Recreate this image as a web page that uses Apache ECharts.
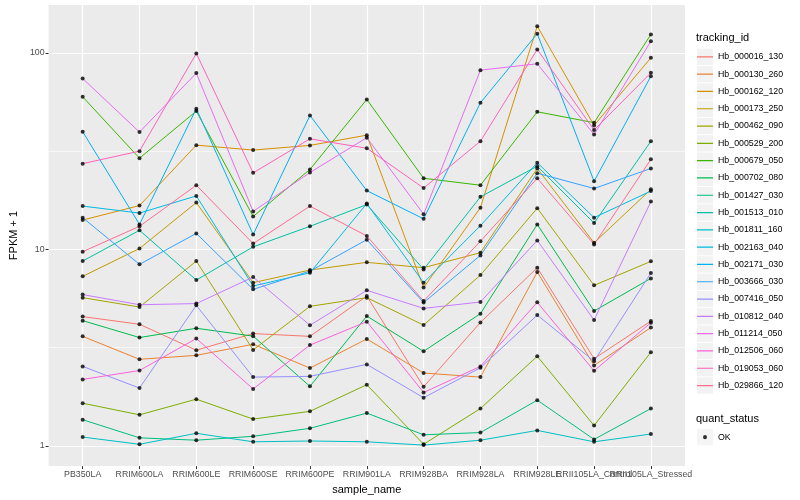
<!DOCTYPE html>
<html><head><meta charset="utf-8">
<script src="https://cdn.jsdelivr.net/npm/echarts@6/dist/echarts.min.js"></script>
<style>html,body{margin:0;padding:0;background:#fff}#c{width:800px;height:500px}</style>
</head><body><div id="c"></div>
<script>
const categories = ['PB350LA','RRIM600LA','RRIM600LE','RRIM600SE','RRIM600PE','RRIM901LA','RRIM928BA','RRIM928LA','RRIM928LE','RRII105LA_Control','RRII105LA_Stressed'];
const trackingIds = ['Hb_000016_130','Hb_000130_260','Hb_000162_120','Hb_000173_250','Hb_000462_090','Hb_000529_200','Hb_000679_050','Hb_000702_080','Hb_001427_030','Hb_001513_010','Hb_001811_160','Hb_002163_040','Hb_002171_030','Hb_003666_030','Hb_007416_050','Hb_010812_040','Hb_011214_050','Hb_012506_060','Hb_019053_060','Hb_029866_120'];

const Hb_000016_130 = [4.55, 4.16, 3.07, 3.73, 3.61, 5.79, 2.00, 4.25, 8.07, 2.78, 4.32];
const Hb_000130_260 = [3.61, 2.76, 2.89, 3.29, 2.49, 3.50, 2.35, 2.24, 7.67, 2.57, 4.00];
const Hb_000162_120 = [14.1, 16.7, 33.9, 32.0, 33.8, 38.1, 6.39, 16.3, 136.5, 42.7, 94.3];
const Hb_000173_250 = [7.29, 10.1, 17.3, 6.77, 7.85, 8.59, 8.07, 9.62, 25.8, 10.8, 20.2];
const Hb_000462_090 = [5.68, 5.09, 8.72, 3.08, 5.13, 5.68, 4.12, 7.40, 16.2, 6.56, 8.69];
const Hb_000529_200 = [1.65, 1.44, 1.73, 1.37, 1.50, 2.05, 1.02, 1.55, 2.86, 1.27, 3.00];
const Hb_000679_050 = [59.7, 29.1, 50.5, 14.7, 25.5, 57.9, 23.0, 21.2, 50.1, 44.1, 124];
const Hb_000702_080 = [4.34, 3.56, 3.97, 3.62, 2.01, 4.58, 3.03, 4.71, 13.4, 4.86, 7.12];
const Hb_001427_030 = [1.36, 1.10, 1.07, 1.12, 1.23, 1.47, 1.14, 1.17, 1.71, 1.08, 1.55];
const Hb_001513_010 = [8.72, 12.5, 6.98, 10.3, 13.1, 16.9, 7.91, 18.5, 26.5, 13.6, 35.5];
const Hb_001811_160 = [1.11, 1.02, 1.16, 1.05, 1.06, 1.05, 1.01, 1.07, 1.20, 1.05, 1.15];
const Hb_002163_040 = [16.6, 15.3, 18.7, 6.51, 7.60, 17.1, 6.77, 13.2, 27.6, 14.5, 19.8];
const Hb_002171_030 = [39.7, 13.4, 51.9, 11.9, 48.0, 19.9, 14.3, 55.7, 125, 22.2, 76.0];
const Hb_003666_030 = [14.5, 8.39, 12.06, 6.26, 7.75, 11.2, 5.36, 9.32, 24.4, 20.4, 25.8];
const Hb_007416_050 = [2.54, 1.97, 5.19, 2.24, 2.26, 2.60, 1.76, 2.50, 4.63, 2.70, 7.58];
const Hb_010812_040 = [5.89, 5.23, 5.30, 7.23, 4.11, 6.19, 5.01, 5.40, 11.1, 4.37, 17.5];
const Hb_011214_050 = [74.0, 39.5, 78.8, 15.6, 24.6, 37.0, 15.1, 81.6, 87.9, 38.4, 114.6];
const Hb_012506_060 = [2.18, 2.42, 3.52, 1.95, 3.26, 4.29, 1.87, 2.54, 5.38, 2.41, 4.24];
const Hb_019053_060 = [27.3, 31.6, 99.2, 24.5, 36.5, 32.7, 20.5, 35.5, 104, 40.5, 79.1];
const Hb_029866_120 = [9.73, 13.1, 21.2, 10.7, 16.6, 11.7, 5.46, 11.0, 23.0, 10.6, 28.7];

const seriesValues = [Hb_000016_130, Hb_000130_260, Hb_000162_120, Hb_000173_250, Hb_000462_090, Hb_000529_200, Hb_000679_050, Hb_000702_080, Hb_001427_030, Hb_001513_010, Hb_001811_160, Hb_002163_040, Hb_002171_030, Hb_003666_030, Hb_007416_050, Hb_010812_040, Hb_011214_050, Hb_012506_060, Hb_019053_060, Hb_029866_120];
const quantStatus = ['OK'];
const yTickValues = [1, 10, 100];
const yMinorValues = [3.1623, 31.623];

const palette = ['#F8766D','#EA8331','#D89000','#C09B00','#A3A500','#7CAE00','#39B600','#00BB4E','#00BF7D','#00C1A3','#00BFC4','#00BAE0','#00B0F6','#35A2FF','#9590FF','#C77CFF','#E76BF3','#FA62DB','#FF62BC','#FF6C91'];

const FONT = 'Liberation Sans, Arial, Helvetica, sans-serif';
const catIdx = categories.map((c, i) => i);
// split the ticks over two overlaid axes so that ECharts does not drop overlapping labels
const xTicksA = catIdx.filter(i => i !== categories.length - 2);
const xTicksB = [categories.length - 2];

const lineSeries = trackingIds.map((name, k) => ({
  name: name,
  type: 'line',
  data: seriesValues[k].map((v, i) => [i, v]),
  showSymbol: false,
  symbol: 'none',
  itemStyle: { color: palette[k] },
  lineStyle: { color: palette[k], width: 1 },
  z: 2,
  silent: true
}));

const points = [];
seriesValues.forEach(vals => vals.forEach((v, i) => points.push([i, v])));

const barIcon = 'path://M0,0h0.05v0.05h-0.05zM0,7.4h16v1.2h-16zM15.95,15.95h0.05v0.05h-0.05z';
const dotIcon = 'path://M0,0h0.05v0.05h-0.05zM15.95,15.95h0.05v0.05h-0.05zM10,8a2,2 0 1,1 -4,0a2,2 0 1,1 4,0z';

const legTop = 48.7, legLeft = 697, itemH = 16.3, itemGap = 1;
const quantTop = 429;

function xAxisDef(ticks, withName) {
  const ax = {
    type: 'value', min: -0.6, max: 10.6, position: 'bottom', gridIndex: 0,
    axisLine: { show: false, onZero: false },
    axisTick: { show: true, customValues: ticks, length: 3, lineStyle: { color: '#333333', width: 1 } },
    axisLabel: { customValues: ticks, formatter: v => categories[Math.round(v)], fontSize: 8.8, color: '#4D4D4D', margin: 4, fontFamily: FONT,
      hideOverlap: false, showMinLabel: true, showMaxLabel: true },
    splitLine: { show: true, lineStyle: { color: '#FFFFFF', width: 1.2 } }
  };
  if (withName) {
    ax.name = 'sample_name';
    ax.nameLocation = 'middle';
    ax.nameGap = 17;
    ax.nameTextStyle = { fontSize: 11, color: '#000', fontFamily: FONT };
  }
  return ax;
}

const chart = echarts.init(document.getElementById('c'));
chart.setOption({
  animation: false,
  backgroundColor: '#FFFFFF',
  textStyle: { fontFamily: FONT },
  title: [
    { text: 'tracking_id', left: legLeft - 1, top: 32, padding: 0, textStyle: { fontSize: 11, fontWeight: 'normal', color: '#000', fontFamily: FONT } },
    { text: 'quant_status', left: legLeft - 1, top: quantTop - 16, padding: 0, textStyle: { fontSize: 11, fontWeight: 'normal', color: '#000', fontFamily: FONT } }
  ],
  grid: { left: 40, right: 115, top: 5, bottom: 33, show: true, backgroundColor: '#EBEBEB', borderWidth: 0, containLabel: false },
  xAxis: [xAxisDef(xTicksA, true), xAxisDef(xTicksB, false)],
  yAxis: [
    {
      type: 'log', logBase: 10, min: 0.79, max: 175, position: 'left',
      axisLine: { show: false, onZero: false },
      axisTick: { show: true, customValues: yTickValues, length: 3, lineStyle: { color: '#333333', width: 1 } },
      axisLabel: { customValues: yTickValues, formatter: v => String(v), fontSize: 8.8, color: '#4D4D4D', margin: 4, fontFamily: FONT },
      splitLine: { show: true, lineStyle: { color: '#FFFFFF', width: 1.2 } },
      name: 'FPKM + 1', nameLocation: 'middle', nameGap: 24, nameRotate: 90,
      nameTextStyle: { fontSize: 11, color: '#000', fontFamily: FONT }
    },
    {
      type: 'log', logBase: 10, min: 0.79, max: 175, position: 'left',
      axisLine: { show: false, onZero: false },
      axisTick: { show: false, customValues: yMinorValues },
      axisLabel: { show: false, customValues: yMinorValues },
      splitLine: { show: true, lineStyle: { color: '#FFFFFF', width: 0.6 } }
    }
  ],
  legend: [
    { data: trackingIds, orient: 'vertical', left: legLeft, top: legTop, padding: 0, itemWidth: 16, itemHeight: itemH, itemGap: itemGap,
      icon: 'rect', itemStyle: { color: '#F2F2F2', borderWidth: 0 }, selectedMode: false,
      textStyle: { color: 'rgba(0,0,0,0)', fontSize: 8.8 }, z: 3 },
    { data: trackingIds, orient: 'vertical', left: legLeft, top: legTop, padding: 0, itemWidth: 16, itemHeight: itemH, itemGap: itemGap,
      icon: barIcon, symbolKeepAspect: false, selectedMode: false,
      textStyle: { color: '#000', fontSize: 8.8, fontFamily: FONT }, z: 4 },
    { data: quantStatus, orient: 'vertical', left: legLeft, top: quantTop, padding: 0, itemWidth: 16, itemHeight: itemH,
      icon: 'rect', itemStyle: { color: '#F2F2F2', borderWidth: 0 }, selectedMode: false,
      textStyle: { color: 'rgba(0,0,0,0)', fontSize: 8.8 }, z: 3 },
    { data: quantStatus, orient: 'vertical', left: legLeft, top: quantTop, padding: 0, itemWidth: 16, itemHeight: itemH,
      icon: dotIcon, symbolKeepAspect: false, selectedMode: false,
      textStyle: { color: '#000', fontSize: 8.8, fontFamily: FONT }, z: 4 }
  ],
  series: lineSeries.concat([{
    name: 'OK', type: 'scatter', data: points, symbol: 'circle', symbolSize: 4,
    itemStyle: { color: '#000000' }, z: 5, silent: true
  }])
});
</script>
</body></html>
